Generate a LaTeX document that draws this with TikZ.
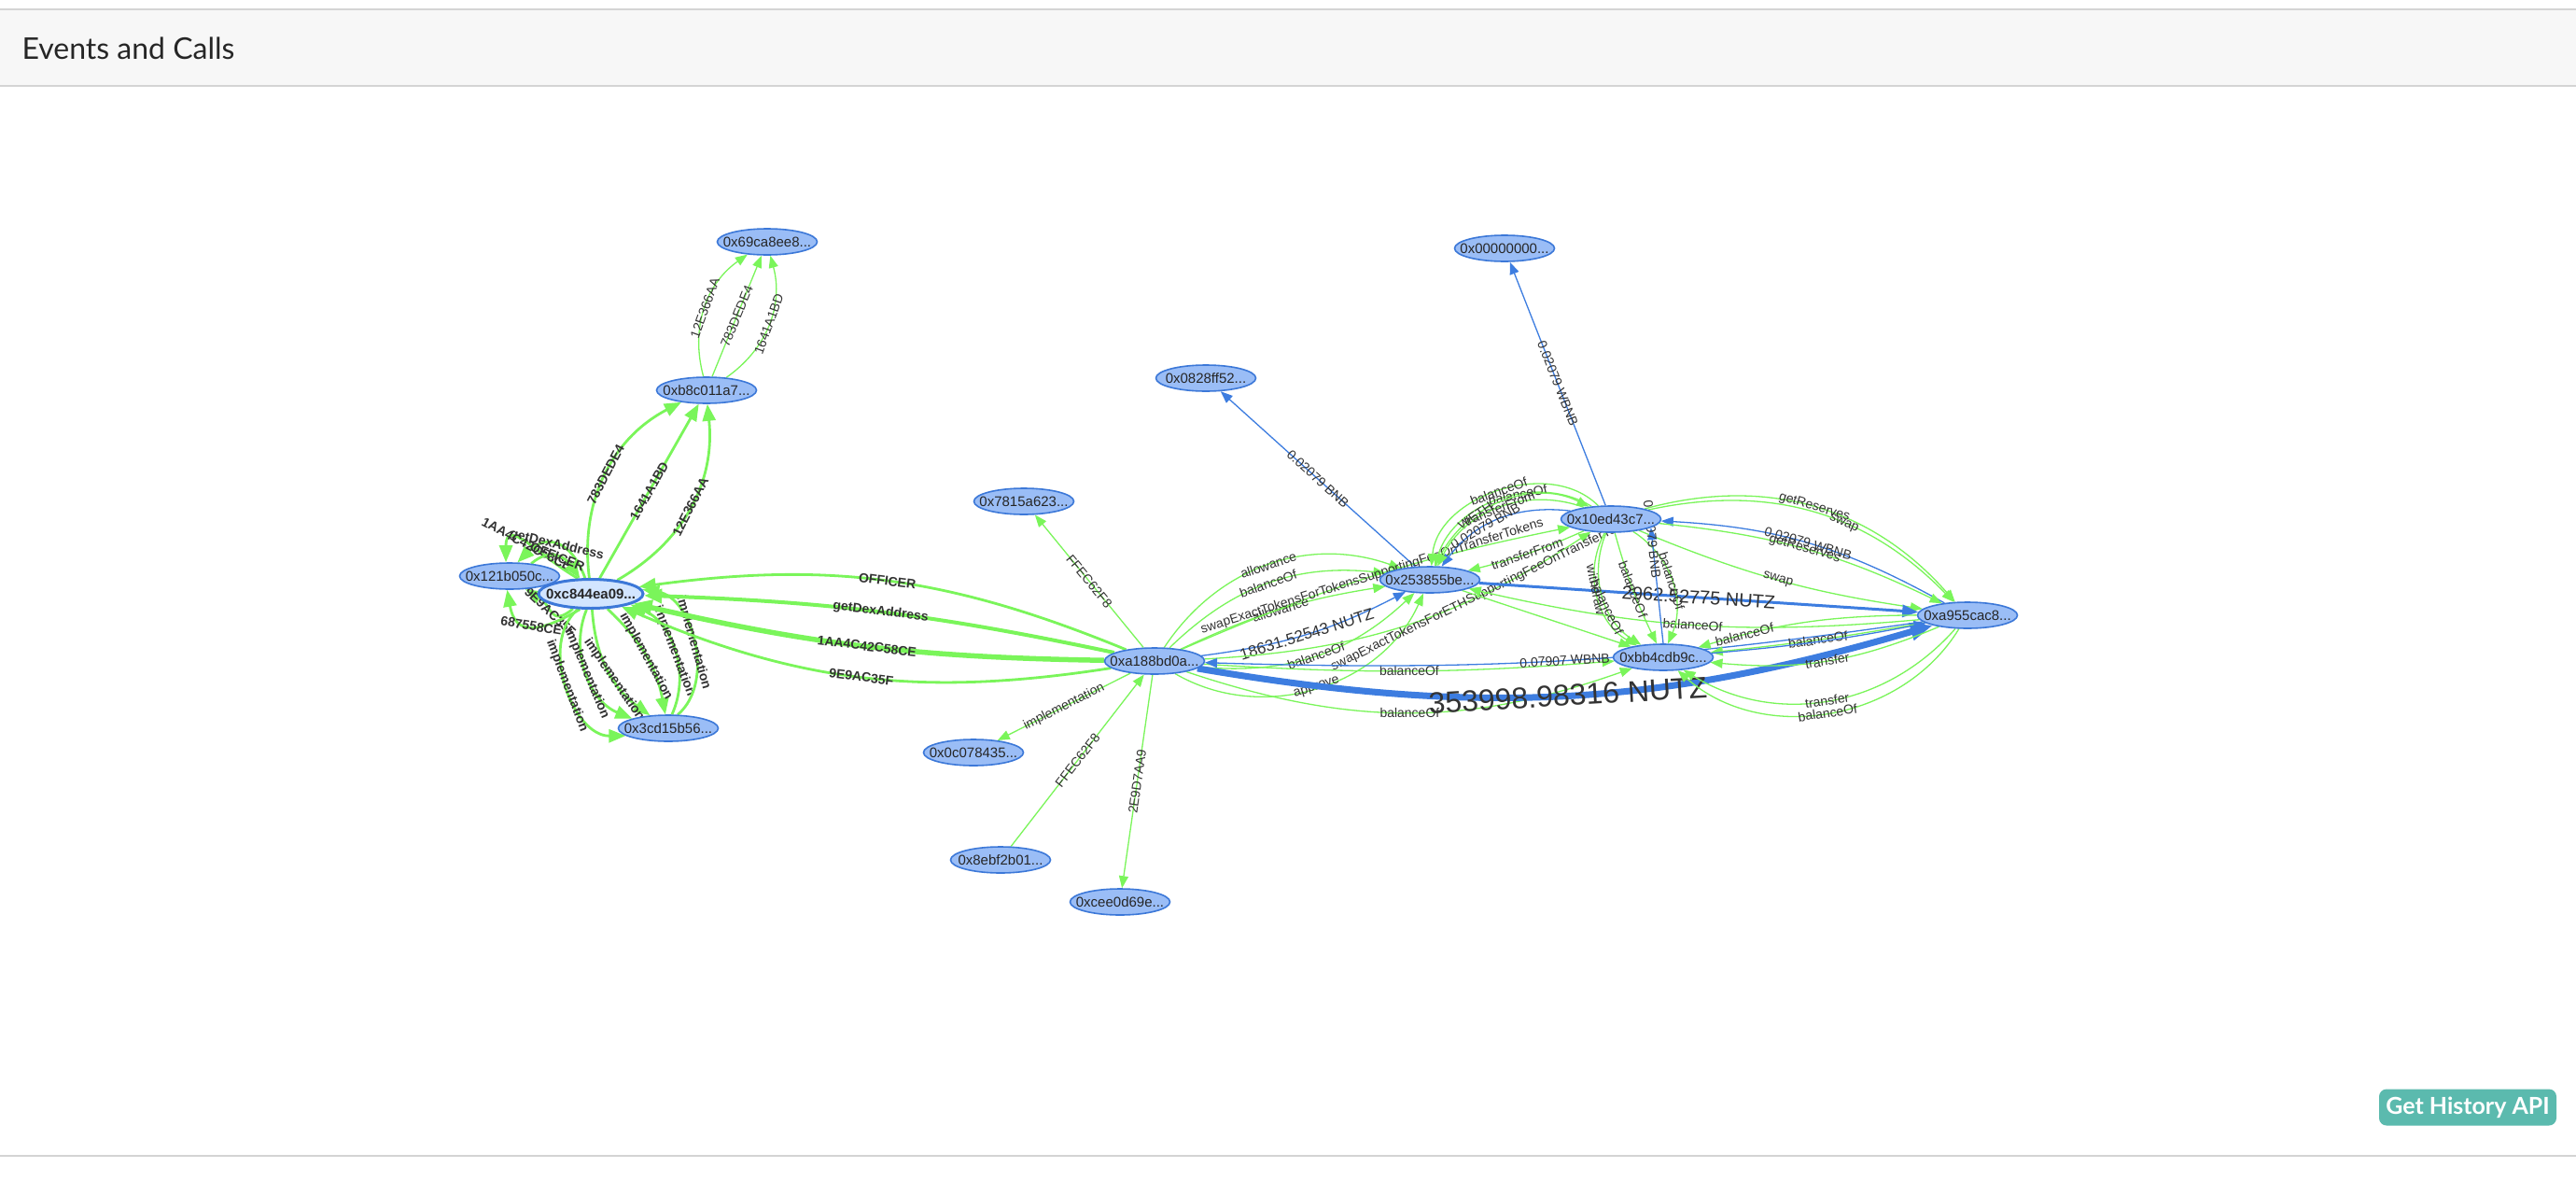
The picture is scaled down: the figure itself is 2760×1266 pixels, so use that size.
\documentclass[tikz,border=0pt]{standalone}
\usepackage{fontspec}
\setmainfont{Liberation Sans}
\newfontfamily\headfont{Lato}
\usetikzlibrary{shapes.geometric,arrows.meta,backgrounds,positioning}
\definecolor{callgreen}{HTML}{7AF55A}
\definecolor{xferblue}{HTML}{3D7DE0}
\definecolor{addrfill}{HTML}{9ABDF6}
\definecolor{addrline}{HTML}{3C78D8}
\definecolor{focusfill}{HTML}{D2E5FF}
\definecolor{labeltext}{HTML}{333333}
\definecolor{headfill}{HTML}{F7F7F7}
\definecolor{headline}{HTML}{D4D4D4}
\definecolor{apibtn}{HTML}{5BBAAE}
\newcommand\addrfont{\fontsize{15}{15}\selectfont}
\newcommand\labfont{\fontsize{14}{14}\selectfont}
\newcommand\nutzsmall{\fontsize{17}{17}\selectfont}
\newcommand\nutzmid{\fontsize{20}{20}\selectfont}
\newcommand\nutzbig{\fontsize{32}{32}\selectfont}

\begin{document}
\begin{tikzpicture}[x=1pt,y=-1pt,
  addr/.style={ellipse,draw=addrline,fill=addrfill,line width=1.6pt,
               minimum width=107pt,minimum height=28pt,inner sep=0pt,
               font=\addrfont,text=black!85,
               execute at begin node={\hbox to 0pt\bgroup\hss},
               execute at end node={\hss\egroup}},
  focusaddr/.style={addr,fill=focusfill,line width=3pt,
                    minimum width=112pt,minimum height=31pt,
                    font=\addrfont\bfseries},
  callthin/.style={draw=callgreen,line width=1.3pt,
                   -{Triangle[length=13pt,width=10pt]}},
  callmid/.style={draw=callgreen,line width=2.8pt,
                  -{Triangle[length=18pt,width=14pt]}},
  callfat/.style={draw=callgreen,line width=4pt,
                  -{Triangle[length=19pt,width=15pt]}},
  callheavy/.style={draw=callgreen,line width=5.5pt,
                    -{Triangle[length=20pt,width=16pt]}},
  xferthin/.style={draw=xferblue,line width=1.3pt,
                   -{Triangle[length=13pt,width=10pt]}},
  xfermid/.style={draw=xferblue,line width=3pt,
                  -{Triangle[length=17pt,width=13pt]}},
  xferheavy/.style={draw=xferblue,line width=7pt,
                    -{Triangle[length=24pt,width=18pt]}},
  lab/.style={font=\labfont,text=labeltext,sloped,inner sep=1pt},
  labbold/.style={lab,font=\labfont\bfseries}
]
\useasboundingbox (0,0) rectangle (2760,1266);

% addresses
\node[addr] (n69ca) at (822,259) {0x69ca8ee8...};
\node[addr] (nb8c0) at (757,418) {0xb8c011a7...};
\node[addr] (n121b) at (546,617) {0x121b050c...};
\node[focusaddr] (nc844) at (633,636) {0xc844ea09...};
\node[addr] (n3cd1) at (716,780) {0x3cd15b56...};
\node[addr] (n7815) at (1097,537) {0x7815a623...};
\node[addr] (n0828) at (1292,405) {0x0828ff52...};
\node[addr] (na188) at (1237,708) {0xa188bd0a...};
\node[addr] (n0c07) at (1043,806) {0x0c078435...};
\node[addr] (n8ebf) at (1072,921) {0x8ebf2b01...};
\node[addr] (ncee0) at (1200,966) {0xcee0d69e...};
\node[addr] (n2538) at (1532,621) {0x253855be...};
\node[addr] (n0000) at (1612,266) {0x00000000...};
\node[addr] (n10ed) at (1726,556) {0x10ed43c7...};
\node[addr] (nbb4c) at (1782,704) {0xbb4cdb9c...};
\node[addr] (na955) at (2108,659) {0xa955cac8...};

% page head and foot
\node[anchor=west,font=\headfont\fontsize{32}{32}\selectfont,text=black!85]
  (title) at (20,52) {Events and Calls};
\node[fill=apibtn,rounded corners=8pt,minimum width=190pt,minimum height=39pt,
      text=white,font=\headfont\bfseries\fontsize{25}{25}\selectfont]
  (histapi) at (2644,1186) {Get History API};

\begin{scope}[on background layer]
\fill[white] (0,0) rectangle (2760,1266);
\fill[headfill] (0,10) rectangle (2760,92);
\draw[headline,line width=2pt] (0,10) -- (2760,10);
\draw[headline,line width=2pt] (0,92) -- (2760,92);
\draw[headline,line width=2pt] (0,1238) -- (2760,1238);
\end{scope}

\begin{scope}[on background layer]
% upper chain
\draw[callthin] (nb8c0) to[bend left=35] node[lab]{12E366AA} (n69ca);
\draw[callthin] (nb8c0) to node[lab]{783DEDE4} (n69ca);
\draw[callthin] (nb8c0) to[bend right=35] node[lab]{1641A1BD} (n69ca);
\draw[callmid] (nc844) to[bend left=35] node[labbold]{783DEDE4} (nb8c0);
\draw[callmid] (nc844) to node[labbold]{1641A1BD} (nb8c0);
\draw[callmid] (nc844) to[bend right=33] node[labbold]{12E366AA} (nb8c0);

% c844 and 121b
\draw[callmid] (nc844.110) to[out=110,in=45,looseness=1.5]
  node[labbold]{getDexAddress} (n121b.60);
\draw[callmid] (nc844.130) to[out=150,in=90,looseness=1.6]
  node[labbold]{1AA4C42C58CE} (n121b.105);
\draw[callmid] (n121b.30) to[out=40,in=125,looseness=1.3]
  node[labbold]{OFFICER} (nc844.125);
\draw[callmid] (nc844.220) to[out=220,in=-30,looseness=1.5]
  node[labbold]{9E9AC35F} (n121b.-40);
\draw[callmid] (nc844.235) to[out=210,in=-80,looseness=1.6]
  node[labbold]{687558CE} (n121b.-100);

% c844 and 3cd1
\draw[callmid] (nc844) to[bend right=70] node[labbold]{implementation} (n3cd1);
\draw[callmid] (nc844) to[bend right=45] node[labbold]{implementation} (n3cd1);
\draw[callmid] (nc844) to[bend right=25] node[labbold,pos=0.6]{implementation} (n3cd1);
\draw[callmid] (nc844) to[bend left=18] node[labbold]{implementation} (n3cd1);
\draw[callmid] (n3cd1) to[bend right=45] node[labbold]{implementation} (nc844);
\draw[callmid] (n3cd1) to[bend right=65] node[labbold]{implementation} (nc844);

% a188 to c844
\draw[callmid] (na188) to[bend right=15] node[labbold]{OFFICER} (nc844);
\draw[callfat] (na188) to[bend right=5] node[labbold]{getDexAddress} (nc844);
\draw[callheavy] (na188) to[bend left=6] node[labbold]{1AA4C42C58CE} (nc844);
\draw[callmid] (na188) to[bend left=16] node[labbold]{9E9AC35F} (nc844);

% a188 spokes
\draw[callthin] (na188) to node[lab]{FFEC62F8} (n7815);
\draw[callthin] (na188) to node[lab]{implementation} (n0c07);
\draw[callthin] (n8ebf) to node[lab]{FFEC62F8} (na188);
\draw[callthin] (na188) to node[lab]{2E9D7AA9} (ncee0);
\draw[xferthin] (n2538) to node[lab]{0.02079 BNB} (n0828);
\draw[xferthin] (n10ed) to node[lab]{0.02079 WBNB} (n0000);

% a188 to token
\draw[callthin] (na188) to[bend left=38] node[lab]{allowance} (n2538);
\draw[callthin] (na188) to[bend left=25] node[lab]{balanceOf} (n2538);
\draw[callthin] (na188) to[bend left=8] node[lab]{allowance} (n2538);
\draw[xferthin] (na188) to[bend right=10] node[lab,font=\nutzsmall]{18631.52543 NUTZ} (n2538);
\draw[callthin] (na188) to[bend right=24] node[lab]{balanceOf} (n2538);
\draw[callthin] (na188) to[bend right=48] node[lab]{approve} (n2538);

% a188 to router
\draw[callthin] (na188) to[bend left=6]
  node[lab]{swapExactTokensForTokensSupportingFeeOnTransferTokens} (n10ed);
\draw[callthin] (na188) to[bend right=15]
  node[lab,pos=0.72]{swapExactTokensForETHSupportingFeeOnTransferTokens} (n10ed);

% router and token
\draw[callthin] (n10ed) to[bend right=65] node[lab]{balanceOf} (n2538);
\draw[callthin] (n10ed) to[bend right=52] node[lab,pos=0.4]{balanceOf} (n2538);
\draw[callthin] (n2538) to[bend left=48] node[lab,pos=0.35]{WETH} (n10ed);
\draw[xferthin] (n10ed) to[bend right=30] node[lab,pos=0.6]{0.02079 BNB} (n2538);
\draw[callthin] (n10ed) to[bend right=42] node[lab]{transferFrom} (n2538);
\draw[callthin] (n10ed) to[bend left=5] node[lab]{transferFrom} (n2538);

% router and pair
\draw[callthin] (n10ed) to[bend left=32] node[lab]{getReserves} (na955);
\draw[callthin] (n10ed) to[bend left=29] node[lab,pos=0.6]{swap} (na955);
\draw[xferthin] (na955) to[bend right=13] node[lab]{0.02079 WBNB} (n10ed);
\draw[callthin] (n10ed) to[bend left=10] node[lab]{getReserves} (na955);
\draw[callthin] (n10ed) to[bend right=7] node[lab]{swap} (na955);

% token and pair
\draw[xfermid] (n2538) to node[lab,font=\nutzmid]{2962.52775 NUTZ} (na955);
\draw[callthin] (na955) to[bend left=9] node[lab]{balanceOf} (n2538);
\draw[callthin] (n2538) to (nbb4c);

% a188 to wbnb and pair
\draw[callthin] (na188) to[bend right=4] node[lab]{balanceOf} (nbb4c);
\draw[callthin] (na188) to[bend right=19] node[lab]{balanceOf} (nbb4c);
\draw[xferthin] (na955) to[bend left=5] node[lab]{0.07907 WBNB} (na188);
\draw[xferheavy] (na188) to[bend right=13] node[lab,font=\nutzbig]{353998.98316 NUTZ} (na955);

% router and wbnb
\draw[callthin] (n10ed) to[bend right=45] node[lab,pos=0.45]{withdraw} (nbb4c);
\draw[callthin] (n10ed) to[bend right=40] node[lab,pos=0.6]{balanceOf} (nbb4c);
\draw[callthin] (n10ed) to[bend right=5] node[lab]{balanceOf} (nbb4c);
\draw[callthin] (n10ed) to[bend left=40] node[lab]{balanceOf} (nbb4c);
\draw[xferthin] (nbb4c.north) to node[lab,pos=0.9]{0.02079 BNB} (n10ed.-12);

% pair and wbnb
\draw[callthin] (na955) to[bend left=2] node[lab]{balanceOf} (nbb4c);
\draw[callthin] (na955) to[bend left=14] node[lab]{transfer} (nbb4c);
\draw[callthin] (na955) to[bend left=40] node[lab]{transfer} (nbb4c);
\draw[callthin] (na955) to[bend left=50] node[lab]{balanceOf} (nbb4c);
\draw[callthin] (na955) to[bend right=8] node[lab,pos=0.8]{balanceOf} (nbb4c);
\draw[xferthin] (nbb4c) to[bend right=3] (na955);
\end{scope}
\end{tikzpicture}
\end{document}
